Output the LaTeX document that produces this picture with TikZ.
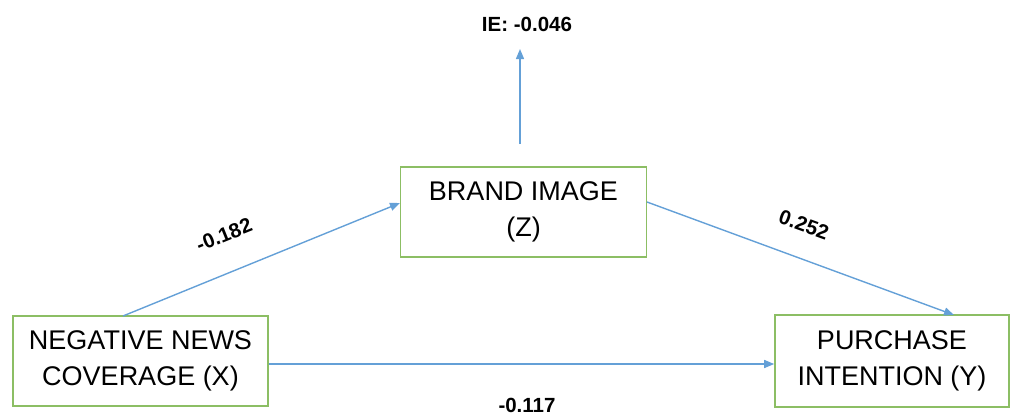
\documentclass[tikz,border=0pt]{standalone}
\usepackage{fontspec}
\setmainfont{Liberation Sans}
\usetikzlibrary{arrows.meta,calc}
\definecolor{boxgreen}{RGB}{140,190,100}
\definecolor{arrowblue}{RGB}{100,160,215}
\tikzset{
  varbox/.style={draw=boxgreen, line width=1.6pt, fill=white, align=center,
    font=\fontsize{27}{36.5}\selectfont, inner sep=0pt},
  path/.style={draw=arrowblue, line width=1.4pt, -{Triangle[length=10pt,width=8pt]}},
  coef/.style={font=\bfseries\fontsize{20.5}{24}\selectfont, inner sep=0pt}
}
\begin{document}
\begin{tikzpicture}[x=1pt,y=-1pt]
\useasboundingbox (0,0) rectangle (1013,416);
\node[varbox, minimum width=255pt, minimum height=90pt] (X) at (140.5,361) {NEGATIVE NEWS\\COVERAGE (X)};
\node[varbox, minimum width=246pt, minimum height=90pt] (Z) at (523.5,212) {BRAND IMAGE\\(Z)};
\node[varbox, minimum width=234pt, minimum height=92pt] (Y) at (892,361) {PURCHASE\\INTENTION (Y)};
\coordinate (xs) at (123,316);
\coordinate (ze) at (400,203);
\coordinate (zs) at (647,202);
\coordinate (ye) at (954,315);
\coordinate (ies) at (520,144);
\coordinate (iee) at (520,49);
\draw[path] (xs) -- (ze);
\draw[path] (zs) -- (ye);
\draw[path] (X.east |- 0,364) -- (Y.west |- 0,364);
\draw[path] (ies) -- (iee);
\node[coef] (ie) at (527,24) {IE: -0.046};
\node[coef, rotate=22] (a) at (224,235) {-0.182};
\node[coef, rotate=-20] (b) at (804,225) {0.252};
\node[coef] (c) at (527,405) {-0.117};
\end{tikzpicture}
\end{document}
